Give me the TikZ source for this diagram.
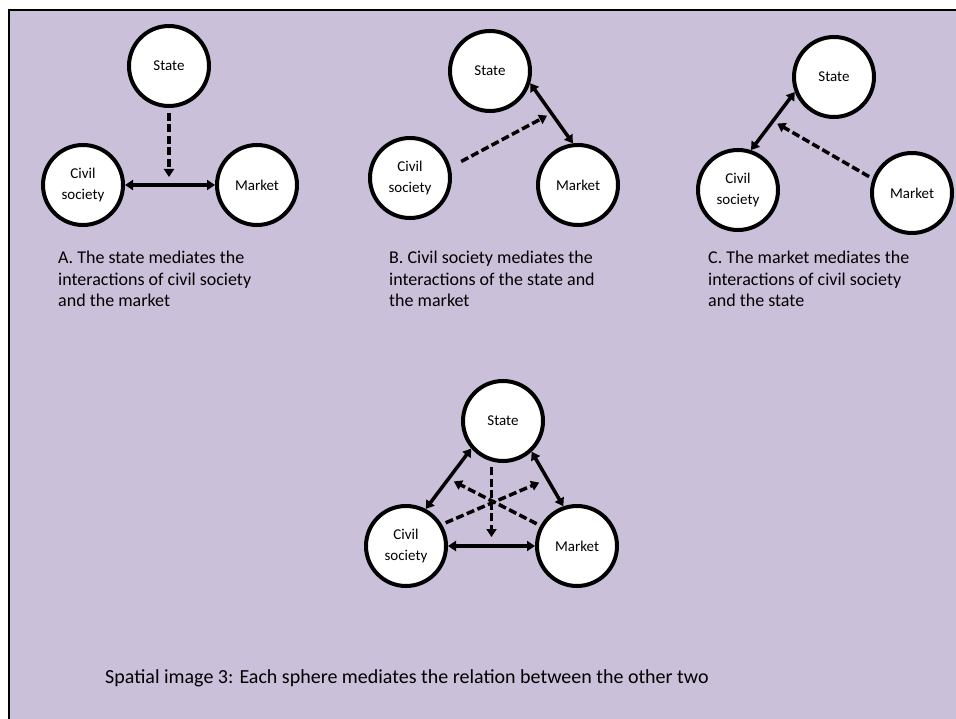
\documentclass[tikz,border=0pt]{standalone}
\usepackage{fontspec}
\setmainfont{Carlito}
\usetikzlibrary{arrows.meta,calc}
\definecolor{lavender}{RGB}{203,192,218}

\begin{document}
\begin{tikzpicture}[x=1pt, y=-1pt,
  sphere/.style={circle, draw, line width=4pt, fill=white, minimum size=80pt, inner sep=0pt, align=center, font=\fontsize{15}{21}\selectfont},
  link/.style={{Triangle[length=8pt,width=10pt]}-{Triangle[length=8pt,width=10pt]}, line width=3.5pt},
  push/.style={-{Triangle[length=8pt,width=10pt]}, line width=3.5pt, dash pattern=on 8pt off 3.5pt},
  note/.style={anchor=north west, align=left, inner sep=0pt, font=\fontsize{18}{21.5}\selectfont}]
\path[use as bounding box] (0,0) rectangle (956,719);
\fill[lavender] (9,10) rectangle (956,719);
\draw[line width=2.5pt] (956,10) -- (9,10) -- (9,719);
% ---- A: the state mediates
\node[sphere] (stateA) at (169,66) {State};
\node[sphere] (civA) at (83,185) {Civil\\society};
\node[sphere] (mktA) at (257,185) {Market};
\coordinate (midA) at ($(civA)!0.5!(mktA)$);
\draw[link] (civA) -- (mktA);
\draw[push, shorten <=5pt, shorten >=8pt] (stateA.south) -- (stateA.south |- midA);
\node[note] (txtA) at (58,251) {A. The state mediates the\\interactions of civil society\\and the market};
% ---- B: civil society mediates
\node[sphere] (stateB) at (490,71) {State};
\node[sphere] (civB) at (410,178) {Civil\\society};
\node[sphere] (mktB) at (578,185) {Market};
\draw[link] (stateB.-17) -- (mktB.97);
\coordinate (hitB) at ($(stateB.-17)!0.5!(mktB.97)$);
\draw[push, shorten <=12pt, shorten >=5pt] (civB.15) -- (hitB);
\node[note] (txtB) at (389,251) {B. Civil society mediates the\\interactions of the state and\\the market};
% ---- C: the market mediates
\node[sphere] (stateC) at (834,77) {State};
\node[sphere] (civC) at (738,190) {Civil\\society};
\node[sphere] (mktC) at (912,193) {Market};
\draw[link] (civC.72) -- (stateC.201);
\coordinate (hitC) at ($(civC.72)!0.5!(stateC.201)$);
\draw[push, shorten <=4pt, shorten >=5pt] (mktC.160) -- (hitC);
\node[note] (txtC) at (708,251) {C. The market mediates the\\interactions of civil society\\and the state};
% ---- D: each sphere mediates
\node[sphere] (stateD) at (503,421) {State};
\node[sphere] (civD) at (406,546) {Civil\\society};
\node[sphere] (mktD) at (577,546) {Market};
\draw[link] (civD.62) -- (stateD.221);
\draw[link] (stateD.-47) -- (mktD.109);
\draw[link] (civD) -- (mktD);
\coordinate (midD) at ($(civD)!0.5!(mktD)$);
\coordinate (hitDl) at ($(civD.62)!0.5!(stateD.221)$);
\coordinate (hitDr) at ($(stateD.-47)!0.5!(mktD.109)$);
\draw[push, shorten <=4pt, shorten >=9pt] (stateD.south -| midD) -- (midD);
\draw[push, shorten <=4pt, shorten >=9pt] (civD.31) -- (hitDr);
\draw[push, shorten <=4pt, shorten >=6pt] (mktD.151) -- (hitDl);
\node[font=\fontsize{20}{24}\selectfont, anchor=base west, inner sep=0pt] (title) at (105,683) {Spatial image 3: Each sphere mediates the relation between the other two};
\end{tikzpicture}
\end{document}
